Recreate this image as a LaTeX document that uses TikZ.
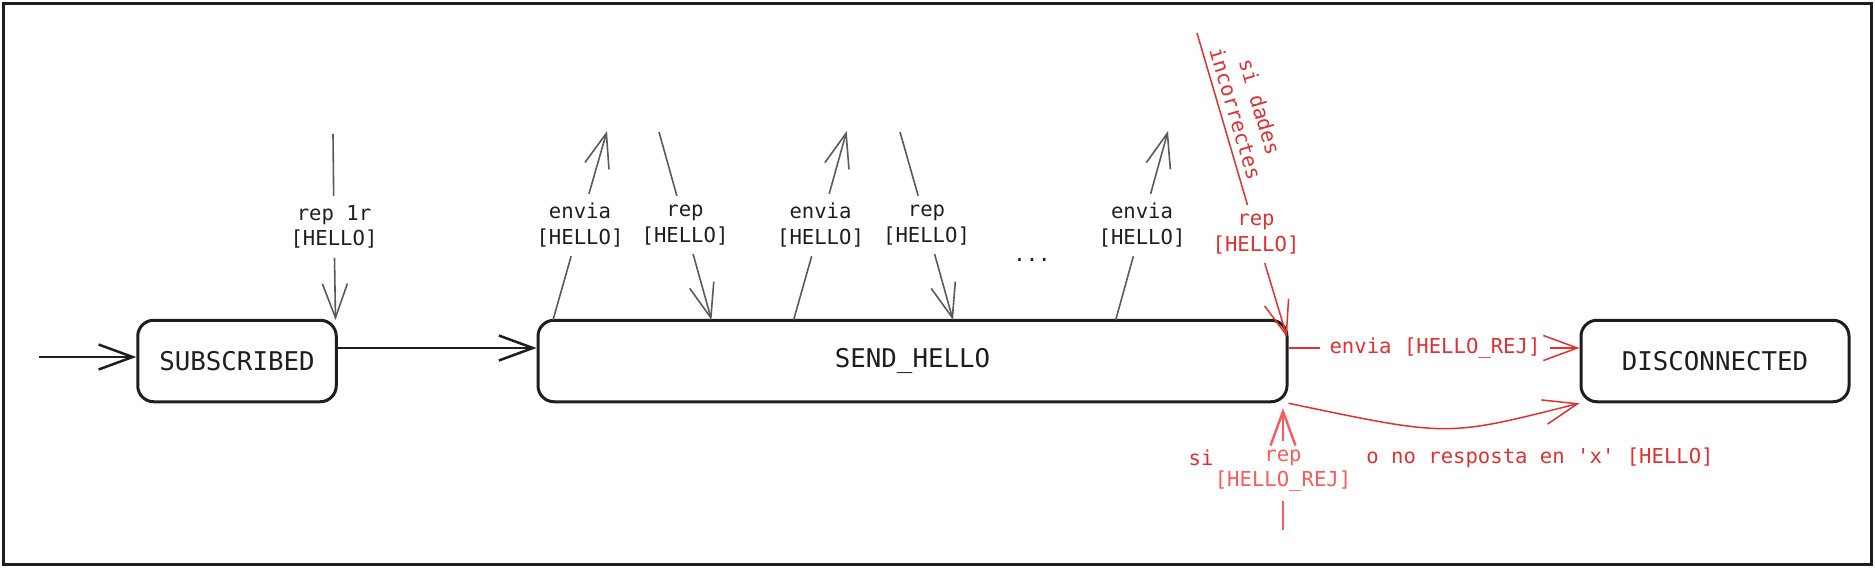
\documentclass[tikz,border=0pt]{standalone}
\usepackage{fontspec}
\setmonofont{DejaVu Sans Mono}
\usetikzlibrary{arrows.meta,calc}
\definecolor{ink}{HTML}{1E1E1E}
\definecolor{grayln}{HTML}{5A5A5A}
\definecolor{redA}{HTML}{E03131}
\definecolor{redB}{HTML}{FA5A5A}
\begin{document}
\begin{tikzpicture}[x=0.5pt,y=-0.5pt,
  statebox/.style={draw=ink, line width=1.5pt, rounded corners=8pt, text=ink,
    font=\ttfamily\fontsize{12.9}{15}\selectfont, minimum height=40.75pt, inner sep=0pt},
  lbl/.style={font=\ttfamily\fontsize{10.3}{12.6}\selectfont, align=center, inner sep=4.5pt, text=ink},
  tipV/.style={-{Straight Barb[length=17pt,width=12.5pt]}},
  barrow/.style={draw=ink, line width=1.25pt, tipV},
  garrow/.style={draw=grayln, line width=0.8pt, tipV},
  rarrow/.style={draw=redA, line width=0.75pt, tipV},
  rarrowb/.style={draw=redB, line width=1.2pt, tipV}]
\useasboundingbox (0,0) rectangle (1875,568);
\draw[draw=ink, line width=1.2pt] (3.5,3.5) rectangle (1871.5,564.5);

% states
\node[statebox, minimum width=99.25pt] (sub) at (237,361) {SUBSCRIBED};
\node[statebox, minimum width=374.5pt] (send) at (912.5,361) {SEND\_HELLO};
\node[statebox, minimum width=134pt] (disc) at (1715,361) {DISCONNECTED};

% initial arrow
\coordinate (init) at (39,357);
\draw[barrow] (init) -- (init -| sub.west);
% SUBSCRIBED -> SEND_HELLO
\coordinate (s1) at ($(sub.east)+(0,-13)$);
\draw[barrow] (s1) -- (s1 -| send.west);

% rep 1r
\node[lbl] (l0) at (334,227) {rep 1r\\{}[HELLO]};
\coordinate (l0s) at (333,134);
\coordinate (l0e) at (335.5,320);
\draw[garrow] (l0s) -- (l0) -- (l0e);

% envia 1
\node[lbl] (e1) at (580,225) {envia\\{}[HELLO]};
\coordinate (e1s) at (553,320);
\coordinate (e1e) at (607,131);
\draw[garrow] (e1s) -- (e1) -- (e1e);
% rep 1
\node[lbl] (r1) at (685,225) {rep\\{}[HELLO]};
\coordinate (r1s) at (659,132);
\coordinate (r1e) at (711.5,320);
\draw[garrow] (r1s) -- (r1) -- (r1e);
% envia 2
\node[lbl] (e2) at (820.5,225) {envia\\{}[HELLO]};
\coordinate (e2s) at (793.6,320);
\coordinate (e2e) at (846.7,131);
\draw[garrow] (e2s) -- (e2) -- (e2e);
% rep 2
\node[lbl] (r2) at (926.5,225) {rep\\{}[HELLO]};
\coordinate (r2s) at (900,132);
\coordinate (r2e) at (953,320);
\draw[garrow] (r2s) -- (r2) -- (r2e);
% dots
\node[lbl] (dots) at (1032,260) {...};
% envia 3
\node[lbl] (e3) at (1142,225) {envia\\{}[HELLO]};
\coordinate (e3s) at (1115.7,320);
\coordinate (e3e) at (1168,131);
\draw[garrow] (e3s) -- (e3) -- (e3e);

% red: rep [HELLO] si dades incorrectes
\node[lbl, text=redA, rotate=-73.5] (sdi) at (1248,110.5) {si dades\\incorrectes};
\node[lbl, text=redA] (rh) at (1256,234) {rep\\{}[HELLO]};
\coordinate (rhs) at (1197,33);
\coordinate (rhe) at (1287,337);
\draw[rarrow] (rhs) -- (rh) -- (rhe);

% red: envia [HELLO_REJ]
\node[lbl, text=redA] (rej) at (1435,348) {envia [HELLO\_REJ]};
\coordinate (q1) at ($(send.east)+(0,-13)$);
\draw[rarrow] (q1) -- (rej) -- (q1 -| disc.west);

% red curved
\draw[rarrow] (send.south east) .. controls (1450,437) and (1445,437) .. (disc.south west);

% bottom red
\node[lbl, text=redB] (rrej) at (1283,471) {rep\\{}[HELLO\_REJ]};
\coordinate (bs) at (1283,530);
\coordinate (be) at (1283,408);
\draw[rarrowb] (bs) -- (rrej) -- (be);
\node[lbl, text=redA] (si) at (1201,458) {si};
\node[lbl, text=redA] (nores) at (1540,458) {o no resposta en 'x' [HELLO]};
\end{tikzpicture}
\end{document}
